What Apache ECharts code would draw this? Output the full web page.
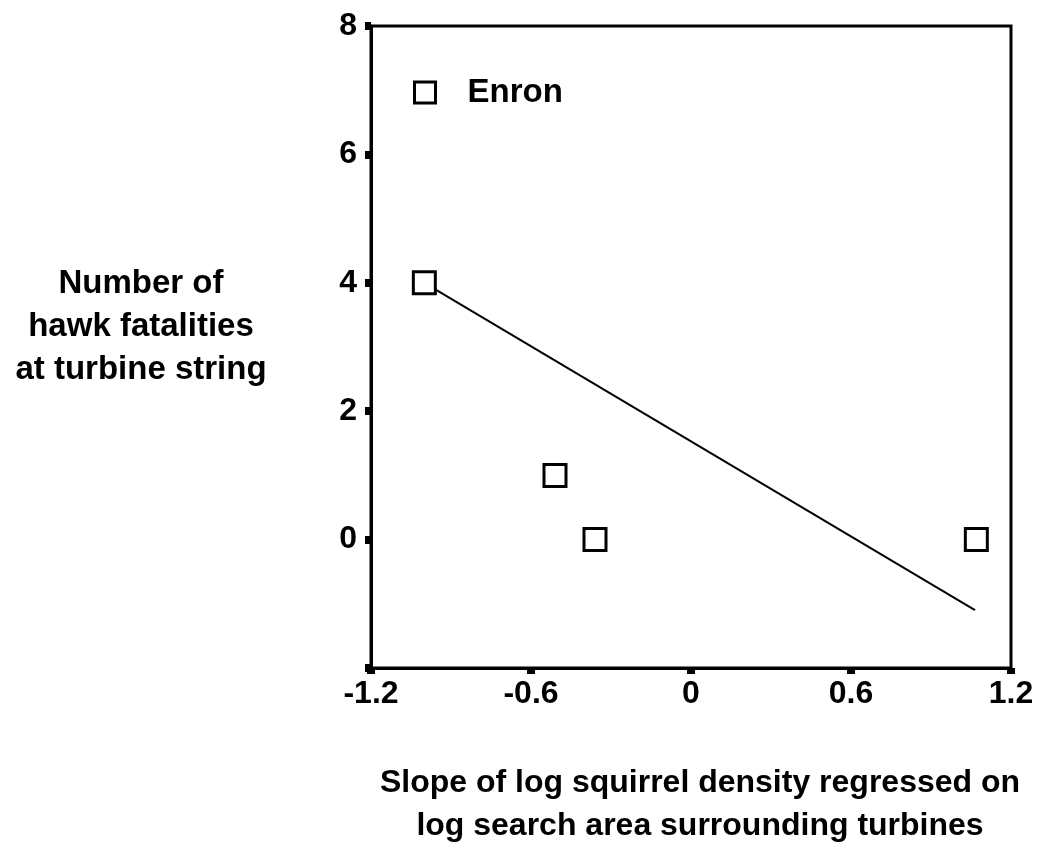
<!DOCTYPE html>
<html>
<head>
<meta charset="utf-8">
<script src="https://cdn.jsdelivr.net/npm/echarts@6/dist/echarts.min.js"></script>
<style>
  html, body { margin: 0; padding: 0; background: #fff; }
  #Chart { width: 1047px; height: 846px; }
</style>
</head>
<body>
<div id="Chart"></div>
<script>
  // values
  var xTicks = [-1.2, -0.6, 0, 0.6, 1.2]
  var yTicks = [-2, 0, 2, 4, 6, 8]
  var enronPoints = [[-1.0, 4], [-0.51, 1], [-0.36, 0], [1.07, 0]]
  var fitLine = [[-1.0, 4.0], [1.065, -1.1]]

  var font = '"Liberation Sans", Arial, sans-serif'
  var Chart = echarts.init(document.getElementById('Chart'))

  Chart.setOption({
    animation: false,
    backgroundColor: '#fff',
    grid: {
      left: 371, right: 36, top: 26, bottom: 178,
      containLabel: false,
      outerBoundsMode: 'none',
      show: true, borderColor: '#000', borderWidth: 3
    },
    // y title sits higher than the axis middle, so place it by hand
    graphic: [{
      type: 'text',
      x: 141, y: 262,
      style: {
        text: 'Number of\nhawk fatalities\nat turbine string',
        font: 'bold 33px ' + font,
        fill: '#000',
        textAlign: 'center',
        textVerticalAlign: 'top',
        lineHeight: 43
      }
    }],
    legend: {
      data: ['Enron'],
      left: 408, top: 71,
      icon: 'rect',
      itemWidth: 21, itemHeight: 21,
      itemStyle: { borderWidth: 3 },
      textStyle: { fontFamily: font, fontWeight: 'bold', fontSize: 33, color: '#000', padding: [0, 0, 0, 27] }
    },
    xAxis: {
      type: 'value',
      min: -1.2, max: 1.2, interval: 0.6,
      name: 'Slope of log squirrel density regressed on\nlog search area surrounding turbines',
      nameLocation: 'middle',
      nameGap: 94,
      nameTextStyle: { fontFamily: font, fontWeight: 'bold', fontSize: 32, color: '#000', lineHeight: 43, padding: [0, 0, 0, 18] },
      axisLine: { show: true, onZero: false, lineStyle: { color: '#000', width: 3 } },
      axisTick: { show: true, length: 6, lineStyle: { color: '#000', width: 8 } },
      axisLabel: {
        fontFamily: font, fontWeight: 'bold', fontSize: 32, color: '#000', margin: 10,
        formatter: function (v) { return xTicks.indexOf(+v.toFixed(1)) >= 0 ? String(+v.toFixed(1)) : '' }
      },
      splitLine: { show: false }
    },
    yAxis: {
      type: 'value',
      min: -2, max: 8, interval: 2,
      axisLine: { show: true, onZero: false, lineStyle: { color: '#000', width: 3 } },
      axisTick: { show: true, length: 6, lineStyle: { color: '#000', width: 8 } },
      axisLabel: {
        fontFamily: font, fontWeight: 'bold', fontSize: 32, color: '#000', margin: 14,
        formatter: function (v) { return yTicks.indexOf(v) > 0 ? String(v) : '' }
      },
      splitLine: { show: false }
    },
    series: [
      {
        name: 'Enron',
        type: 'scatter',
        data: enronPoints,
        symbol: 'rect',
        symbolSize: 22,
        itemStyle: { color: '#fff', borderColor: '#000', borderWidth: 3, opacity: 1 },
        z: 3
      },
      {
        name: 'fit',
        type: 'line',
        data: fitLine,
        showSymbol: false,
        symbol: 'none',
        lineStyle: { color: '#000', width: 2 },
        z: 2
      }
    ]
  })
</script>
</body>
</html>
